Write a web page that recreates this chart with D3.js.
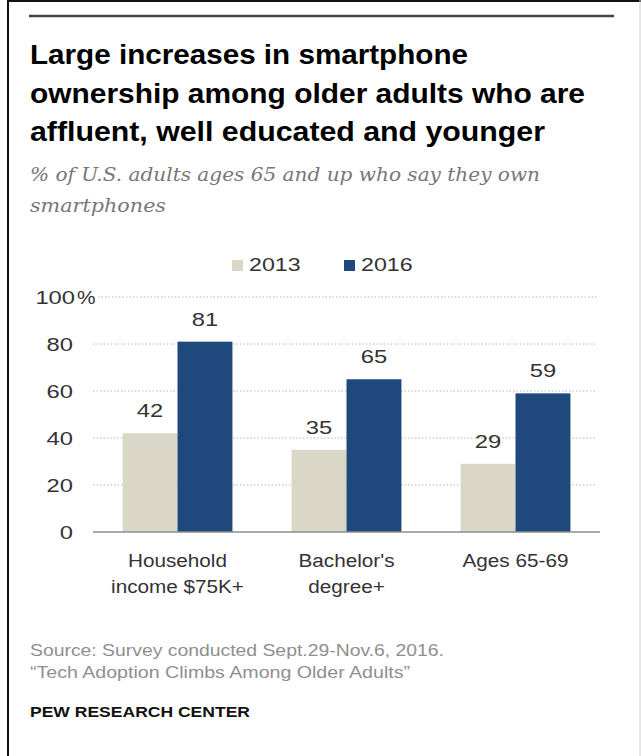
<!DOCTYPE html>
<html>
<head>
<meta charset="utf-8">
<script src="https://cdn.jsdelivr.net/npm/d3@7"></script>
<style>
  html, body { margin: 0; padding: 0; background: #fff; }
  svg { display: block; }
  text { font-family: "Liberation Sans", Arial, sans-serif; }
</style>
</head>
<body>
<script>
// Smartphone ownership among adults 65+, by group and survey year
const categories = [["Household", "income $75K+"], ["Bachelor's", "degree+"], ["Ages 65-69"]];
const years = ["2013", "2016"];
const values2013 = [42, 35, 29];
const values2016 = [81, 65, 59];
const yTicks = [0, 20, 40, 60, 80, 100];

const titleLines = [
  "Large increases in smartphone",
  "ownership among older adults who are",
  "affluent, well educated and younger"
];
const subtitleLines = [
  "% of U.S. adults ages 65 and up who say they own",
  "smartphones"
];
const sourceLines = [
  "Source: Survey conducted Sept.29-Nov.6, 2016.",
  "\u201cTech Adoption Climbs Among Older Adults\u201d"
];
const credit = "PEW RESEARCH CENTER";

const W = 641, H = 756;
const colors = { "2013": "#dbd7c7", "2016": "#1f497d" };

const svg = d3.select("body").append("svg").attr("width", W).attr("height", H);

// stretch text horizontally to a target width, or by a factor of its natural width
function fitWidth(sel, target) {
  sel.each(function () {
    this.setAttribute("textLength", target);
    this.setAttribute("lengthAdjust", "spacingAndGlyphs");
  });
}
function widen(sel, k) {
  sel.each(function () {
    const L = this.getComputedTextLength();
    this.setAttribute("textLength", L * k);
    this.setAttribute("lengthAdjust", "spacingAndGlyphs");
  });
}

// frame
svg.append("line").attr("x1", 8).attr("x2", 8).attr("y1", 0).attr("y2", H)
  .attr("stroke", "#111").attr("stroke-width", 2);
svg.append("line").attr("x1", 7).attr("x2", W).attr("y1", 1).attr("y2", 1)
  .attr("stroke", "#111").attr("stroke-width", 2);
svg.append("line").attr("x1", 640).attr("x2", 640).attr("y1", 0).attr("y2", H)
  .attr("stroke", "#ccc").attr("stroke-width", 1);

// top rule
svg.append("line").attr("x1", 29).attr("x2", 614).attr("y1", 16).attr("y2", 16)
  .attr("stroke", "#444").attr("stroke-width", 2.5);

// title
const titleWidths = [438, 555, 515];
svg.append("g").selectAll("text").data(titleLines).join("text")
  .attr("x", 30).attr("y", (d, i) => 64 + i * 38.5)
  .attr("font-size", 27).attr("font-weight", "bold").attr("fill", "#000")
  .text(d => d)
  .each(function (d, i) { fitWidth(d3.select(this), titleWidths[i]); });

// subtitle
const subWidths = [510, 136];
svg.append("g").selectAll("text").data(subtitleLines).join("text")
  .attr("x", 30).attr("y", (d, i) => 181 + i * 31)
  .attr("font-size", 19).attr("font-style", "italic")
  .style("font-family", "'DejaVu Serif', 'Liberation Serif', serif")
  .attr("fill", "#777")
  .text(d => d)
  .each(function (d, i) { fitWidth(d3.select(this), subWidths[i]); });

// legend
const legend = svg.append("g").attr("transform", "translate(232,260)");
const legendItem = legend.selectAll("g").data(years).join("g")
  .attr("transform", (d, i) => `translate(${i * 112},0)`);
legendItem.append("rect").attr("width", 11).attr("height", 11).attr("fill", d => colors[d]);
legendItem.append("text").attr("x", 17).attr("y", 11)
  .attr("font-size", 19).attr("fill", "#333").text(d => d)
  .call(widen, 1.22);

// chart area
const margin = { left: 93, right: 600, top: 297, bottom: 532 };
const x = d3.scaleBand().domain(d3.range(categories.length))
  .range([margin.left, margin.right]).paddingInner(0.35).paddingOuter(0.175);
const xs = d3.scaleBand().domain(years).range([0, x.bandwidth()]);
const y = d3.scaleLinear().domain([0, 100]).range([margin.bottom, margin.top]);

// dotted gridlines
svg.append("g").selectAll("line").data(yTicks.filter(d => d > 0)).join("line")
  .attr("x1", d => d === 100 ? 98 : margin.left).attr("x2", 597)
  .attr("y1", d => y(d)).attr("y2", d => y(d))
  .attr("stroke", "#b5b5b5").attr("stroke-width", 1).attr("stroke-dasharray", "1.5,2");

// y axis labels
const yAxis = svg.append("g").attr("transform", `translate(${margin.left},0)`)
  .call(d3.axisLeft(y).tickValues(yTicks).tickSize(0).tickPadding(20).tickFormat(d3.format("d")));
yAxis.select(".domain").remove();
yAxis.selectAll("text").attr("font-size", 19).attr("fill", "#333")
  .style("font-family", "'Liberation Sans', Arial, sans-serif")
  .attr("x", d => d === 100 ? -18 : -20)
  .call(widen, 1.25);
yAxis.selectAll(".tick").filter(d => d === 100).append("text")
  .attr("x", -16).attr("dy", "0.32em").attr("font-size", 19).attr("fill", "#333")
  .attr("text-anchor", "start").text("%").call(widen, 1.1);

// bars
const groups = svg.append("g").selectAll("g").data(categories).join("g")
  .attr("transform", (d, i) => `translate(${x(i)},0)`);
const barData = (d, i) => years.map(yr => ({ yr, v: yr === "2013" ? values2013[i] : values2016[i] }));
groups.selectAll("rect").data(barData).join("rect")
  .attr("x", d => xs(d.yr)).attr("width", xs.bandwidth())
  .attr("y", d => y(d.v)).attr("height", d => y(0) - y(d.v))
  .attr("fill", d => colors[d.yr]);

// value labels
groups.selectAll("text.val").data(barData).join("text").attr("class", "val")
  .attr("x", d => xs(d.yr) + xs.bandwidth() / 2).attr("y", d => y(d.v) - 16)
  .attr("text-anchor", "middle").attr("font-size", 19).attr("fill", "#333")
  .text(d => d.v)
  .call(widen, 1.25);

// baseline
svg.append("line").attr("x1", margin.left).attr("x2", margin.right)
  .attr("y1", y(0)).attr("y2", y(0)).attr("stroke", "#8c8c8c").attr("stroke-width", 1.5);

// category labels
groups.selectAll("text.cat").data(d => d).join("text").attr("class", "cat")
  .attr("x", x.bandwidth() / 2).attr("y", (d, i) => 567 + i * 26)
  .attr("text-anchor", "middle").attr("font-size", 18).attr("fill", "#333")
  .text(d => d)
  .call(widen, 1.15);

// source note
const srcWidths = [414, 380];
svg.append("g").selectAll("text").data(sourceLines).join("text")
  .attr("x", 30).attr("y", (d, i) => 656 + i * 22)
  .attr("font-size", 16.5).attr("fill", "#8f8f8f")
  .text(d => d)
  .each(function (d, i) { fitWidth(d3.select(this), srcWidths[i]); });

svg.append("text").attr("x", 30).attr("y", 717)
  .attr("font-size", 15.5).attr("font-weight", "bold").attr("fill", "#111")
  .text(credit).call(fitWidth, 220);
</script>
</body>
</html>
